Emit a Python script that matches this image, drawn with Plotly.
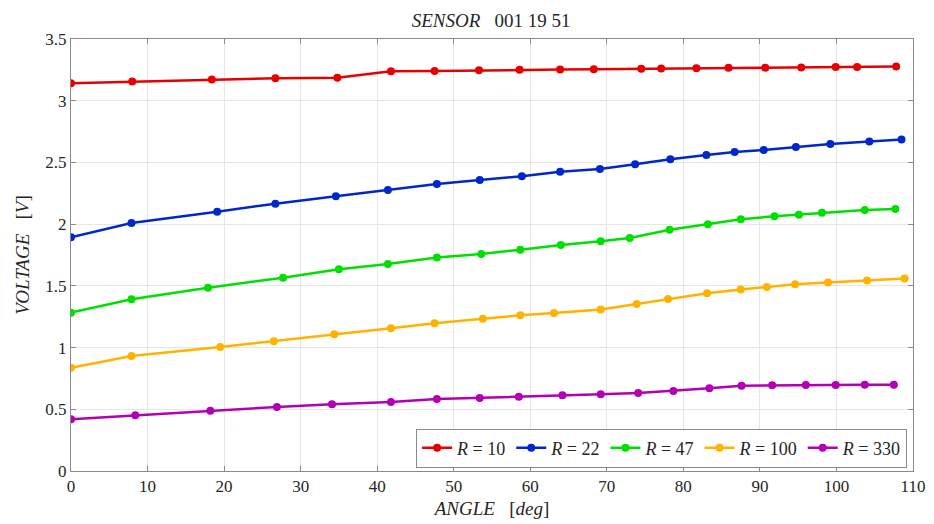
import plotly.graph_objects as go

# ---- data ----
x_r10 = [0, 8.0, 18.4, 26.7, 34.8, 41.8, 47.5, 53.3, 58.6, 63.9, 68.3, 74.5, 77.1, 81.7, 85.9, 90.7, 95.4, 99.9, 102.7, 107.8]
v_r10 = [3.141, 3.155, 3.171, 3.182, 3.187, 3.239, 3.241, 3.247, 3.250, 3.252, 3.255, 3.258, 3.262, 3.263, 3.267, 3.268, 3.270, 3.273, 3.274, 3.278]

x_r22 = [0, 7.9, 19.1, 26.7, 34.6, 41.4, 47.8, 53.4, 58.9, 63.9, 69.1, 73.7, 78.3, 83.0, 86.7, 90.5, 94.7, 99.2, 104.3, 108.5]
v_r22 = [1.894, 2.010, 2.101, 2.166, 2.226, 2.277, 2.326, 2.358, 2.388, 2.425, 2.447, 2.485, 2.526, 2.561, 2.585, 2.600, 2.625, 2.650, 2.670, 2.685]

x_r47 = [0, 7.9, 17.9, 27.7, 35.0, 41.4, 47.8, 53.6, 58.7, 64.0, 69.2, 73.0, 78.2, 83.2, 87.5, 91.9, 95.1, 98.1, 103.7, 107.7]
v_r47 = [1.283, 1.391, 1.485, 1.566, 1.634, 1.677, 1.729, 1.759, 1.793, 1.831, 1.861, 1.888, 1.955, 1.999, 2.040, 2.064, 2.077, 2.093, 2.115, 2.123]

x_r100 = [0, 7.9, 19.5, 26.5, 34.4, 41.8, 47.5, 53.8, 58.7, 63.1, 69.2, 73.9, 78.0, 83.1, 87.5, 90.9, 94.6, 98.9, 104.0, 108.9]
v_r100 = [0.837, 0.932, 1.005, 1.051, 1.108, 1.156, 1.197, 1.234, 1.261, 1.280, 1.308, 1.353, 1.394, 1.440, 1.470, 1.491, 1.513, 1.527, 1.543, 1.559]

x_r330 = [0, 8.4, 18.2, 26.9, 34.1, 41.8, 47.8, 53.4, 58.5, 64.2, 69.2, 74.1, 78.7, 83.4, 87.6, 91.6, 96.0, 99.9, 103.7, 107.5]
v_r330 = [0.419, 0.451, 0.489, 0.519, 0.540, 0.559, 0.583, 0.592, 0.602, 0.613, 0.622, 0.632, 0.648, 0.670, 0.691, 0.694, 0.697, 0.697, 0.699, 0.699]

names = ["<i>R</i> = 10", "<i>R</i> = 22", "<i>R</i> = 47", "<i>R</i> = 100", "<i>R</i> = 330"]
xs = [x_r10, x_r22, x_r47, x_r100, x_r330]
vs = [v_r10, v_r22, v_r47, v_r100, v_r330]
colors = ["#e60000", "#0028c8", "#00e000", "#ffb300", "#b400b4"]

x_ticks = [0, 10, 20, 30, 40, 50, 60, 70, 80, 90, 100, 110]
y_ticks = [0, 0.5, 1, 1.5, 2, 2.5, 3, 3.5]
y_ticklabels = ["0", "0.5", "1", "1.5", "2", "2.5", "3", "3.5"]

FONT = "Liberation Serif, Times New Roman, serif"

fig = go.Figure()
for n, x, v, c in zip(names, xs, vs, colors):
    fig.add_trace(go.Scatter(
        x=x, y=v, name=n, mode="lines+markers",
        line=dict(color=c, width=2.5),
        marker=dict(color=c, size=8),
    ))

axis_common = dict(
    showline=True, linecolor="#8a8a8a", linewidth=1, mirror="ticks",
    ticks="inside", ticklen=5, tickcolor="#8a8a8a",
    showgrid=True, gridcolor="#e6e6e6", gridwidth=1,
    zeroline=False, automargin=False,
    tickfont=dict(family=FONT, size=17, color="#262626"),
)

fig.update_layout(
    width=934, height=524,
    margin=dict(l=71, r=21, t=39, b=53),
    paper_bgcolor="white", plot_bgcolor="white",
    font=dict(family=FONT, size=17, color="#262626"),
    title=dict(text="<i>SENSOR</i>   001 19 51", x=0.5258, xanchor="center",
               y=0.962, yanchor="middle", font=dict(family=FONT, size=19, color="#262626")),
    xaxis=dict(range=[0, 110], tickvals=x_ticks,
               title=dict(text="<i>ANGLE</i>   [<i>deg</i>]", standoff=6,
                          font=dict(family=FONT, size=19)),
               **axis_common),
    yaxis=dict(range=[0, 3.5], tickvals=y_ticks, ticktext=y_ticklabels,
               title=dict(text="<i>VOLTAGE</i>   [<i>V</i>]", standoff=10,
                          font=dict(family=FONT, size=19)),
               **axis_common),
    legend=dict(orientation="h", x=0.993, xanchor="right", y=0.008, yanchor="bottom",
                bgcolor="white", bordercolor="#8a8a8a", borderwidth=1,
                font=dict(family=FONT, size=18, color="#262626"),
                itemwidth=30, tracegroupgap=0),
    showlegend=True,
)

fig.write_html("out.html")
